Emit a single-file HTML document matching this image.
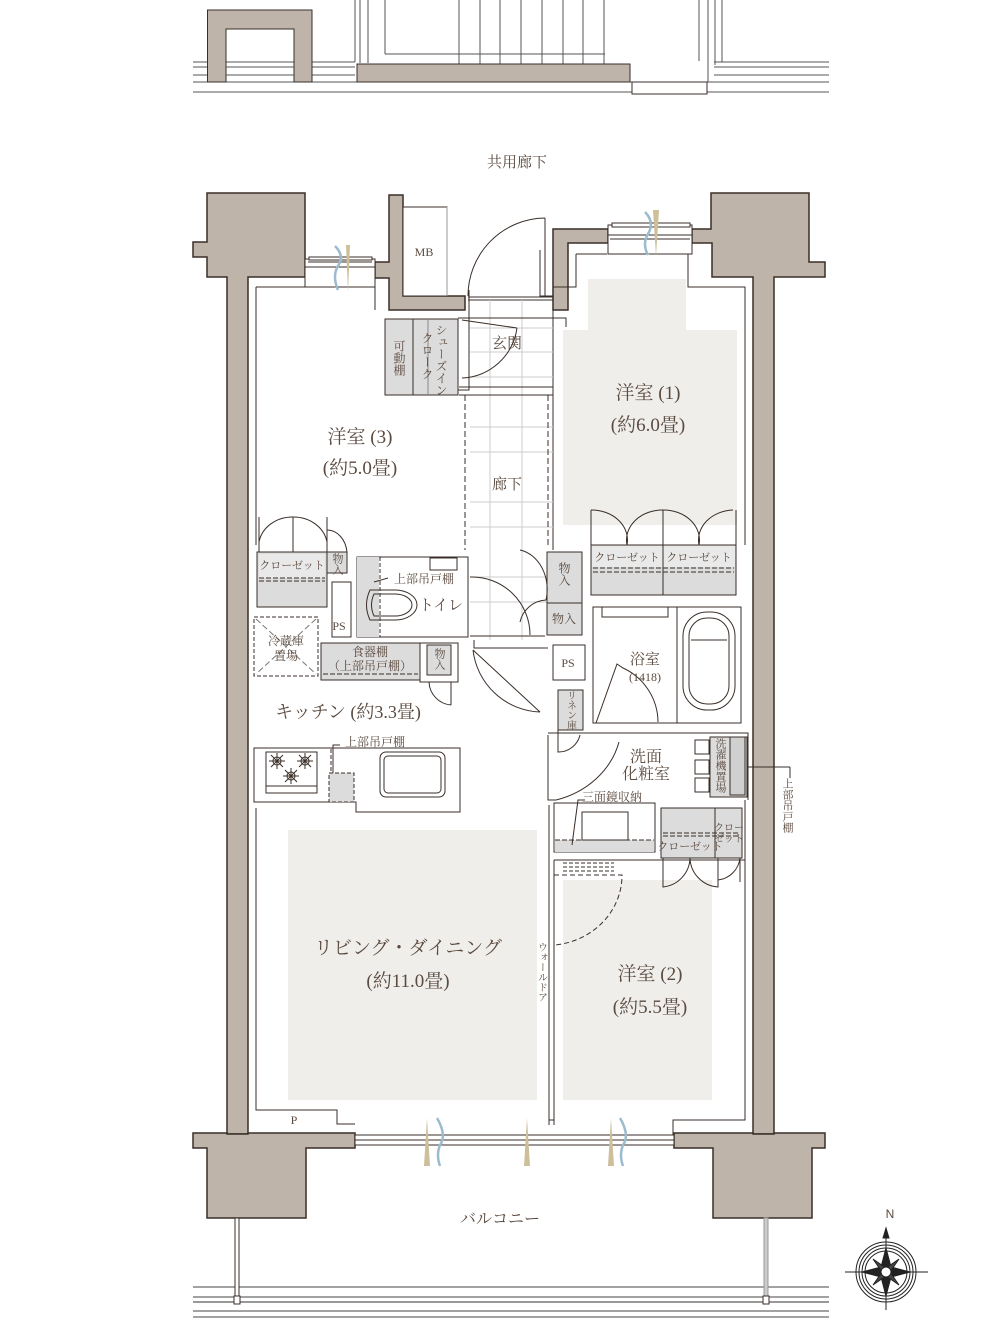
<!DOCTYPE html>
<html><head><meta charset="utf-8"><style>
html,body{margin:0;padding:0;background:#fff;}
svg{display:block}
text{font-family:"Liberation Serif","Noto Serif CJK SC",serif;fill:#5b4a3f;}
.t{font-family:"Liberation Serif","Noto Serif CJK SC",serif;}
</style></head><body>
<svg width="1002" height="1320" viewBox="0 0 1002 1320" xmlns="http://www.w3.org/2000/svg">
<g fill="none" stroke="#3a2e28" stroke-width="1">
<!-- top external corridor structure -->
<g stroke="#555" stroke-width="1">
<line x1="193" y1="62" x2="355" y2="62"/><line x1="193" y1="67" x2="355" y2="67"/>
<line x1="193" y1="75" x2="355" y2="75"/><line x1="193" y1="82" x2="829" y2="82"/>
<line x1="193" y1="92" x2="829" y2="92"/>
<line x1="714" y1="62" x2="829" y2="62"/><line x1="714" y1="67" x2="829" y2="67"/><line x1="714" y1="75" x2="829" y2="75"/>
<line x1="355" y1="0" x2="355" y2="62"/><line x1="360" y1="0" x2="360" y2="63"/><line x1="368" y1="0" x2="368" y2="63"/><line x1="385" y1="0" x2="385" y2="54"/>
<line x1="385" y1="54" x2="605" y2="54"/>
<line x1="459" y1="0" x2="459" y2="64"/><line x1="480" y1="0" x2="480" y2="64"/><line x1="500" y1="0" x2="500" y2="64"/><line x1="521" y1="0" x2="521" y2="64"/><line x1="542" y1="0" x2="542" y2="64"/><line x1="563" y1="0" x2="563" y2="64"/><line x1="583" y1="0" x2="583" y2="64"/><line x1="604" y1="0" x2="604" y2="64"/>
<line x1="699" y1="0" x2="699" y2="61"/><line x1="708" y1="0" x2="708" y2="82"/><line x1="715" y1="0" x2="715" y2="65"/><line x1="722" y1="0" x2="722" y2="62"/>
</g>
<path d="M207.5 10 H312 V82 H294 V29 H226 V82 H207.5 Z" fill="#bfb4aa"/>
<rect x="357" y="64" width="273" height="18" fill="#bfb4aa"/>
<rect x="632" y="82" width="75" height="12" fill="#fff"/>

<!-- walls -->
<path d="M207 193 H305 V277 H248 V1134 H227 V277 H207 V257 H193 V242 H207 Z" fill="#bfb4aa" stroke-width="1.5"/>
<path d="M375 262 H389 V195 H403 V296 H465 V310 H389 V278 H375 Z" fill="#bfb4aa" stroke-width="1.5"/>
<path d="M553 310 V229 H608 V243 H568 V310 Z" fill="#bfb4aa" stroke-width="1.5"/>
<path d="M692 229 H711 V193 H809 V262 H825 V277 H774 V1134 H753 V277 H712 V243 H692 Z" fill="#bfb4aa" stroke-width="1.5"/>
<path d="M193 1133 H227 V1134 H248 V1133 H355 V1148 H306 V1218 H207 V1148 H193 Z" fill="#bfb4aa" stroke-width="1.5"/>
<path d="M674 1133 H753 V1134 H774 V1133 H825 V1148 H812 V1218 H713 V1148 H674 Z" fill="#bfb4aa" stroke-width="1.5"/>

<!-- windows -->
<rect x="305" y="259" width="70" height="28" fill="#fff"/><line x1="305" y1="267" x2="375" y2="267"/><line x1="308" y1="262" x2="372" y2="262"/><rect x="309" y="257" width="63" height="3" fill="#fff"/>
<rect x="608" y="225" width="84" height="29" fill="#fff"/><line x1="608" y1="235" x2="692" y2="235"/><line x1="610" y1="239" x2="690" y2="239"/><rect x="612" y="223" width="78" height="4" fill="#fff"/>
<rect x="355" y="1135" width="319" height="10" fill="#fff"/><line x1="355" y1="1140" x2="674" y2="1140"/>
<!-- balcony -->
<g stroke="#444"><line x1="193" y1="1287" x2="829" y2="1287"/><line x1="193" y1="1297" x2="829" y2="1297"/><line x1="193" y1="1311" x2="829" y2="1311"/><line x1="193" y1="1317" x2="829" y2="1317"/></g>
<line x1="193" y1="1302" x2="829" y2="1302" stroke="#999" stroke-width="2"/>
<rect x="235" y="1218" width="4" height="84" fill="#fff"/><rect x="764" y="1218" width="4" height="84" fill="#ccc" stroke="#999"/>
<rect x="234" y="1296" width="6" height="8" fill="#fff"/><rect x="763" y="1296" width="6" height="8" fill="#fff"/>

<!-- room inner floor fills -->
<path d="M588 279 H686 V330 H737 V525 H563 V330 H588 Z" fill="#efeeeb" stroke="none"/>
<rect x="288" y="830" width="249" height="270" fill="#efeeeb" stroke="none"/>
<rect x="563" y="880" width="149" height="220" fill="#efeeeb" stroke="none"/>

<!-- inner room lines -->
<path d="M256 287 H375 V310 M256 287 V545"/>
<path d="M568 252 V243 M576 254 V287 H553 V550 M576 254 H607 M688 254 V287 H745 V545" stroke-width="1"/>
<path d="M256 808 V1110 H337 V1124 H355 M745 800 V1120 H673 V1135"/>
<path d="M540 250 V296 H553"/>
<!-- MB -->
<rect x="403" y="207" width="44" height="89" fill="#fff"/><line x1="447" y1="207" x2="447" y2="296" stroke="#999"/>
<!-- entrance door -->
<line x1="545" y1="218" x2="545" y2="297"/><path d="M545 218 A78 78 0 0 0 468 296"/>
<line x1="468" y1="297" x2="553" y2="297"/><line x1="468" y1="300" x2="553" y2="300"/>
<!-- entrance/hall -->
<g stroke="#ccc">
<line x1="490" y1="300" x2="490" y2="640"/><line x1="522" y1="300" x2="522" y2="640"/>
<line x1="470" y1="328" x2="553" y2="328"/><line x1="470" y1="352" x2="553" y2="352"/><line x1="470" y1="377" x2="553" y2="377"/>
<line x1="470" y1="427" x2="553" y2="427"/><line x1="470" y1="452" x2="553" y2="452"/><line x1="470" y1="502" x2="553" y2="502"/><line x1="470" y1="527" x2="553" y2="527"/><line x1="470" y1="577" x2="553" y2="577"/><line x1="470" y1="602" x2="553" y2="602"/>
</g>
<path d="M458 390 H469 V290"/><path d="M458 318 H566 V327" />
<line x1="459" y1="387" x2="553" y2="387"/><line x1="459" y1="395" x2="553" y2="395"/>
<path d="M462 320 L517 328 M462 378 A58 58 0 0 0 517 328"/>
<path d="M465 395 V550 M548 395 V548" stroke-dasharray="6 3"/>
<!-- shoe cloak -->
<rect x="385" y="319" width="73" height="76" fill="#dcdcdc"/><line x1="413" y1="319" x2="413" y2="395"/><line x1="428" y1="319" x2="428" y2="395" stroke="#888"/>
<!-- yoshitsu3 closet -->
<path d="M259 517 V552 M327 517 V552 M259 542 A34 30 0 0 1 293 517 M327 542 A34 30 0 0 0 293 517 M293 517 V552"/>
<rect x="257" y="552" width="70" height="55" fill="#dcdcdc"/><rect x="259" y="554" width="66" height="24" fill="#e9e9e9" stroke="none"/>
<line x1="259" y1="578" x2="325" y2="578" stroke-dasharray="5 2"/><line x1="259" y1="581" x2="325" y2="581" stroke-dasharray="5 2"/>
<rect x="327" y="552" width="20" height="21" fill="#dcdcdc"/>
<path d="M327 530 A20 25 0 0 1 347 552"/>
<rect x="332" y="582" width="19" height="55" fill="#fff"/>
<!-- fridge -->
<rect x="254" y="617" width="64" height="59" stroke-dasharray="4 2"/><path d="M256 619 L316 674 M316 619 L256 674" stroke-dasharray="6 3" stroke="#777"/>
<rect x="321" y="643" width="99" height="37" fill="#dcdcdc"/><line x1="323" y1="674" x2="418" y2="674" stroke-dasharray="5 2"/>
<rect x="420" y="643" width="38" height="39" fill="#fff"/><rect x="427" y="645" width="24" height="30" fill="#dcdcdc"/>
<path d="M451 682 V705 M429 682 A24 24 0 0 0 451 705"/>
<!-- toilet -->
<rect x="357" y="557" width="111" height="80" fill="#fff"/><rect x="357" y="557" width="22" height="80" fill="#dcdcdc" stroke="none"/>
<line x1="380" y1="557" x2="380" y2="637" stroke-dasharray="4 2"/>
<rect x="430" y="558" width="27" height="12" fill="#fff"/>
<path d="M370 590 H395 A22 15 0 0 1 395 620 H370 Q363 605 370 590 Z"/><path d="M374 594 H395 A17 11 0 0 1 395 616 H374 Q369 605 374 594 Z"/>
<path d="M374 582 L388 578"/>
<path d="M470 577 A58 58 0 0 1 530 635"/><line x1="470" y1="636" x2="545" y2="636"/>
<path d="M474 640 V648 H548"/>
<path d="M473 650 L540 712 M473 650 A70 70 0 0 0 540 712"/>
<!-- hall storage -->
<rect x="547" y="552" width="35" height="51" fill="#dcdcdc"/><rect x="547" y="603" width="35" height="32" fill="#dcdcdc"/>
<path d="M520 550 A33 40 0 0 1 546 600 M520 622 A28 28 0 0 1 546 600"/>
<!-- yoshitsu1 closet -->
<path d="M591 545 V510 M736 545 V510 M591 510 A36 30 0 0 1 627 545 M663 510 A36 30 0 0 0 627 545 M663 510 A36 30 0 0 1 699 545 M733 510 A36 30 0 0 0 699 545 M663 510 V545"/>
<rect x="591" y="545" width="145" height="50" fill="#dcdcdc"/><rect x="592" y="546" width="143" height="21" fill="#e9e9e9" stroke="none"/><line x1="663" y1="545" x2="663" y2="595"/>
<line x1="593" y1="568" x2="734" y2="568" stroke-dasharray="5 2"/><line x1="593" y1="572" x2="734" y2="572" stroke-dasharray="5 2"/>
<!-- PS & linen -->
<rect x="553" y="645" width="32" height="35"/>
<rect x="558" y="690" width="25" height="40" fill="#dcdcdc"/>
<path d="M558 730 V752 A22 22 0 0 0 580 735"/>
<!-- bath -->
<rect x="593" y="607" width="148" height="116" fill="#fff"/><line x1="677" y1="607" x2="677" y2="723"/>
<rect x="602" y="607" width="66" height="10"/>
<rect x="683" y="612" width="52" height="98" rx="24"/><rect x="689" y="618" width="40" height="86" rx="18"/><path d="M691 640 H727"/>
<path d="M596 723 L617 664 L623 668 A60 60 0 0 1 658 722"/>
<!-- washroom -->
<path d="M548 733 H748 V800 M548 735 V800 H556"/>
<rect x="710" y="737" width="37" height="60" fill="#dcdcdc"/><rect x="730" y="737" width="15" height="58" fill="#d0d0d0"/>
<rect x="695" y="740" width="14" height="14"/><rect x="695" y="760" width="14" height="14"/><rect x="695" y="778" width="14" height="14"/>
<line x1="747" y1="767" x2="790" y2="767"/><line x1="790" y1="767" x2="790" y2="778"/>
<path d="M556 800 A90 80 0 0 0 619 742"/>
<rect x="554" y="803" width="101" height="49"/><rect x="555" y="840" width="99" height="12" fill="#dcdcdc" stroke="none"/>
<line x1="555" y1="840" x2="654" y2="840" stroke-dasharray="5 2"/><rect x="582" y="812" width="46" height="28" fill="#fff"/>
<path d="M572 845 L578 800 H585"/>
<rect x="661" y="808" width="81" height="50" fill="#dcdcdc"/><line x1="715" y1="808" x2="715" y2="858"/>
<line x1="663" y1="833" x2="740" y2="833" stroke-dasharray="5 2"/><line x1="663" y1="836" x2="740" y2="836" stroke-dasharray="5 2"/>
<path d="M663 858 V887 A30 30 0 0 0 690 858 A30 30 0 0 0 718 887 V858 M718 880 A25 25 0 0 0 740 858 V882"/>
<path d="M554 860 H745 M554 860 V1125 M549 805 V1125 M549 1120 H554"/>
<line x1="563" y1="863" x2="614" y2="863" stroke-dasharray="4 2"/><line x1="563" y1="867" x2="614" y2="867" stroke-dasharray="4 2"/><line x1="563" y1="871" x2="614" y2="871" stroke-dasharray="4 2"/>
<path d="M554 875 H622 A75 70 0 0 1 555 945" stroke-dasharray="5 3"/>
<!-- kitchen counter -->
<path d="M254 748 H460 V812 H356 V802 H254 Z"/>
<rect x="254" y="748" width="77" height="54" stroke-dasharray="4 2"/>
<rect x="266" y="752" width="51" height="41"/><line x1="266" y1="786" x2="317" y2="786"/>
<rect x="329" y="773" width="25" height="29" fill="#dcdcdc" stroke-dasharray="4 2"/>
<path d="M333 773 V745 H340"/>
<rect x="380" y="752" width="65" height="45" rx="6"/><rect x="384" y="756" width="57" height="37" rx="4"/>
<g stroke="#3a2e28"><circle cx="277" cy="761" r="4"/><circle cx="305" cy="761" r="4"/><circle cx="291" cy="776" r="4"/>
<path d="M269 761 H285 M277 753 V769 M271 755 L283 767 M283 755 L271 767 M297 761 H313 M305 753 V769 M299 755 L311 767 M311 755 L299 767 M283 776 H299 M291 768 V784 M285 770 L297 782 M297 770 L285 782"/></g>
</g>

<!-- ventilation symbols -->
<g>
<path d="M335 246 Q345 256 338 266 Q332 276 338 290" fill="none" stroke="#9bbccf" stroke-width="2.5"/><path d="M346 245 L350 245 L348 292 Z" fill="#cdbf9a"/>
<path d="M645 212 Q655 222 648 234 Q642 244 648 255" fill="none" stroke="#9bbccf" stroke-width="2.5"/><path d="M653 210 L659 210 L656 256 Z" fill="#cdbf9a"/>
<path d="M437 1118 Q447 1135 440 1145 Q436 1155 440 1166" fill="none" stroke="#9bbccf" stroke-width="2.5"/><path d="M424 1166 L430 1166 L427 1118 Z" fill="#cdbf9a"/>
<path d="M527 1118 L530 1166 L524 1166 Z" fill="#cdbf9a"/>
<path d="M620 1118 Q630 1135 623 1145 Q619 1155 623 1166" fill="none" stroke="#9bbccf" stroke-width="2.5"/><path d="M608 1166 L614 1166 L611 1118 Z" fill="#cdbf9a"/>
</g>

<!-- compass -->
<g stroke="#222" fill="none">
<circle cx="886" cy="1272" r="30"/><circle cx="886" cy="1272" r="27"/><circle cx="886" cy="1272" r="24"/><circle cx="886" cy="1272" r="21"/>
<line x1="845" y1="1272" x2="928" y2="1272"/><line x1="886" y1="1228" x2="886" y2="1310"/>
<path d="M886 1228 L883 1238 H889 Z" fill="#222"/>
<path d="M886 1248 L891 1267 L910 1272 L891 1277 L886 1296 L881 1277 L862 1272 L881 1267 Z" fill="#222"/>
<path d="M873 1259 L886 1268 L899 1259 L890 1272 L899 1285 L886 1276 L873 1285 L882 1272 Z" fill="#444"/>
<circle cx="886" cy="1272" r="5" fill="#fff"/>
</g>
<text x="890" y="1218" font-size="12" text-anchor="middle" style="font-family:'Liberation Sans',sans-serif" fill="#222">N</text>

<!-- labels -->
<g text-anchor="middle">
<text x="517" y="167" font-size="15">共用廊下</text>
<text x="424" y="256" font-size="12">MB</text>
<text x="507" y="348" font-size="15">玄関</text>
<text x="648" y="399" font-size="19">洋室 (1)</text>
<text x="648" y="431" font-size="19">(約6.0畳)</text>
<text x="360" y="443" font-size="19">洋室 (3)</text>
<text x="360" y="474" font-size="19">(約5.0畳)</text>
<text x="507" y="489" font-size="15">廊下</text>
<text x="292" y="569" font-size="11">クローゼット</text>
<text x="627" y="561" font-size="11">クローゼット</text>
<text x="699" y="561" font-size="11">クローゼット</text>
<text x="424" y="583" font-size="12">上部吊戸棚</text>
<text x="441" y="610" font-size="15">トイレ</text>
<text x="339" y="630" font-size="12">PS</text>
<text x="568" y="667" font-size="12">PS</text>
<text x="286" y="645" font-size="12">冷蔵庫</text>
<text x="286" y="660" font-size="12">置場</text>
<text x="370" y="656" font-size="12">食器棚</text>
<text x="370" y="670" font-size="12">（上部吊戸棚）</text>
<text x="645" y="664" font-size="15">浴室</text>
<text x="645" y="681" font-size="12">(1418)</text>
<text x="348" y="718" font-size="18">キッチン (約3.3畳)</text>
<text x="375" y="746" font-size="12">上部吊戸棚</text>
<text x="646" y="762" font-size="16">洗面</text>
<text x="646" y="779" font-size="16">化粧室</text>
<text x="612" y="801" font-size="12">三面鏡収納</text>
<text x="690" y="850" font-size="11">クローゼット</text>
<text x="729" y="831" font-size="10">クロー</text>
<text x="729" y="842" font-size="10">ゼット</text>
<text x="408" y="954" font-size="19">リビング・ダイニング</text>
<text x="408" y="987" font-size="19">(約11.0畳)</text>
<text x="650" y="980" font-size="19">洋室 (2)</text>
<text x="650" y="1013" font-size="19">(約5.5畳)</text>
<text x="294" y="1124" font-size="12">P</text>
<text x="500" y="1224" font-size="16">バルコニー</text>
</g>
<g font-size="12" style="writing-mode:tb" text-anchor="start">
<text x="399" y="340" font-size="12">可動棚</text>
<text x="441" y="324" font-size="12">シューズイン</text>
<text x="427" y="332" font-size="12">クローク</text>
<text x="337" y="553" font-size="11">物入</text>
<text x="564" y="562" font-size="12">物入</text>
<text x="439" y="648" font-size="11">物入</text>
<text x="570" y="690" font-size="10">リネン庫</text>
<text x="720" y="738" font-size="11">洗濯機置場</text>
<text x="787" y="778" font-size="11">上部吊戸棚</text>
<text x="541" y="942" font-size="10">ウォールドア</text>
</g>
<text x="564" y="623" font-size="12" text-anchor="middle">物入</text>
</svg>
</body></html>
